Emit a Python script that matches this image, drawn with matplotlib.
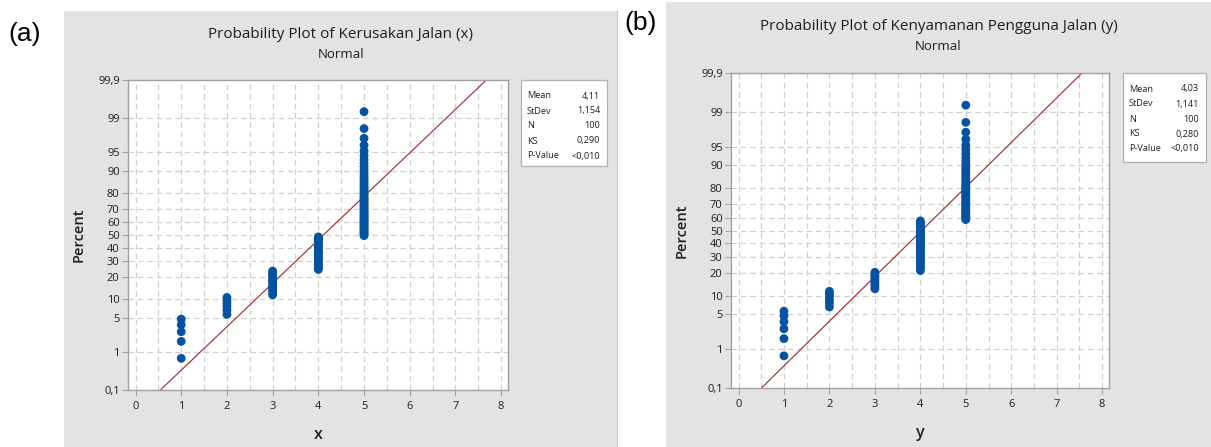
import numpy as np
import matplotlib
matplotlib.use("Agg")
import matplotlib.pyplot as plt
from matplotlib.patches import Rectangle
from matplotlib.ticker import FixedLocator, NullLocator
from statistics import NormalDist

# ---------------- data ----------------
x_values = [1, 2, 3, 4, 5]
x_counts = [5, 6, 13, 25, 51]
y_values = [1, 2, 3, 4, 5]
y_counts = [6, 6, 9, 37, 42]

x_mean, x_sd = 4.11, 1.154
y_mean, y_sd = 4.03, 1.141

stat_names = ["Mean", "StDev", "N", "KS", "P-Value"]
x_stats = ["4,11", "1,154", "100", "0,290", "<0,010"]
y_stats = ["4,03", "1,141", "100", "0,280", "<0,010"]

titles = ["Probability Plot of Kerusakan Jalan (x)",
          "Probability Plot of Kenyamanan Pengguna Jalan (y)"]
subtitle = "Normal"
xlabels = ["x", "y"]
ylabel = "Percent"
panel_tags = ["(a)", "(b)"]

pct_ticks = [0.1, 1, 5, 10, 20, 30, 40, 50, 60, 70, 80, 90, 95, 99, 99.9]
pct_labels = ["0,1", "1", "5", "10", "20", "30", "40", "50", "60", "70",
              "80", "90", "95", "99", "99,9"]
x_ticks = [0, 1, 2, 3, 4, 5, 6, 7, 8]

# ---------------- style ----------------
W, H = 1211, 447
FONT = ["Open Sans", "DejaVu Sans"]
plt.rcParams["font.family"] = FONT
GRAY_BG = "#e3e3e3"
SPINE = "#a0a0a0"
GRID = "#d0d0d0"
DOT = "#0453a3"
LINE = "#a52f2f"
TXT = "#1e1e1e"

nd = NormalDist()
_ppf = np.vectorize(lambda p: nd.inv_cdf(p), otypes=[float])
_cdf = np.vectorize(lambda z: nd.cdf(z), otypes=[float])


def fwd(p):
    p = np.clip(np.asarray(p, dtype=float) / 100.0, 1e-12, 1 - 1e-12)
    return _ppf(p)


def inv(z):
    return _cdf(np.asarray(z, dtype=float)) * 100.0


fig = plt.figure(figsize=(W / 100, H / 100), dpi=100)
fig.patch.set_facecolor("white")


def rect_px(x0, y0, x1, y1, **kw):
    r = Rectangle((x0 / W, 1 - y1 / H), (x1 - x0) / W, (y1 - y0) / H,
                  transform=fig.transFigure, **kw)
    fig.add_artist(r)
    return r


def axes_px(l, r, t, b):
    return fig.add_axes([l / W, 1 - b / H, (r - l) / W, (b - t) / H])


# panel geometry (pixels)
panels = [
    dict(bg=(64, 11, 618, 447), ax=(128, 508, 80, 390), box=(521, 80, 607, 166),
         tag=(25, 34), values=x_values, counts=x_counts, mean=x_mean, sd=x_sd,
         stats=x_stats),
    dict(bg=(666, 2, 1211, 447), ax=(731, 1109, 73, 388), box=(1123, 73, 1206, 162),
         tag=(641, 23), values=y_values, counts=y_counts, mean=y_mean, sd=y_sd,
         stats=y_stats),
]

for k, P in enumerate(panels):
    bx0, by0, bx1, by1 = P["bg"]
    rect_px(bx0, by0, bx1, by1, facecolor=GRAY_BG, edgecolor="none", zorder=0)
    if k == 0:
        rect_px(bx1 - 1, by0, bx1, by1, facecolor="#c4c4c4", edgecolor="none", zorder=0)

    l, r, t, b = P["ax"]
    ax = axes_px(l, r, t, b)
    ax.set_facecolor("white")
    ax.set_yscale("function", functions=(fwd, inv))
    ax.set_ylim(0.1, 99.9)
    ax.set_xlim(-0.165, 8.15)

    # grid
    for gx in np.arange(0, 8.01, 0.5):
        ax.axvline(gx, color=GRID, lw=0.9, ls=(0, (4.5, 3)), zorder=1)
    for gy in pct_ticks[1:-1]:
        ax.axhline(gy, color=GRID, lw=0.9, ls=(0, (4.5, 3)), zorder=1)

    # fitted line
    lo = P["mean"] + nd.inv_cdf(0.001) * P["sd"]
    hi = P["mean"] + nd.inv_cdf(0.999) * P["sd"]
    xs = np.array([lo, hi])
    ax.plot(xs, 100 * _cdf((xs - P["mean"]) / P["sd"]), color=LINE, lw=0.85,
            zorder=2, solid_capstyle="butt")

    # data points with median-rank plotting positions
    data = np.repeat(P["values"], P["counts"])
    n = len(data)
    ranks = np.arange(1, n + 1)
    pct = (ranks - 0.3) / (n + 0.4) * 100
    ax.scatter(data, pct, s=40, color=DOT, edgecolors="none", zorder=3, clip_on=False)

    ax.yaxis.set_major_locator(FixedLocator(pct_ticks))
    ax.yaxis.set_minor_locator(NullLocator())
    ax.set_yticklabels(pct_labels)
    ax.set_xticks(x_ticks)
    ax.set_xticklabels([str(v) for v in x_ticks])
    ax.xaxis.set_minor_locator(NullLocator())
    ax.tick_params(axis="both", direction="out", length=4, width=0.8, color=SPINE,
                   labelsize=8, labelcolor=TXT)
    ax.tick_params(axis="x", pad=4)
    ax.tick_params(axis="y", pad=2)
    for lab in ax.get_xticklabels() + ax.get_yticklabels():
        lab.set_fontweight("medium")
    for s in ax.spines.values():
        s.set_color(SPINE)
        s.set_linewidth(1.0)

    ax.set_xlabel(xlabels[k], fontsize=11.5, color=TXT, labelpad=11,
                  fontweight="semibold")
    ax.set_ylabel(ylabel, fontsize=10.5, color=TXT, labelpad=9,
                  fontweight="semibold")

    # titles centered on the gray panel
    cx = (bx0 + bx1) / 2 / W
    ty = t - 45 if k == 0 else t - 46
    fig.text(cx, 1 - ty / H, titles[k], ha="center", va="center", fontsize=11,
             color=TXT, fontweight="medium")
    fig.text(cx, 1 - (ty + 19) / H, subtitle, ha="center", va="center",
             fontsize=9.5, color=TXT, fontweight="medium")

    # stats box
    sx0, sy0, sx1, sy1 = P["box"]
    rect_px(sx0, sy0, sx1, sy1, facecolor="white", edgecolor="#b0b0b0",
            linewidth=0.9, zorder=2)
    for j, (nm, val) in enumerate(zip(stat_names, P["stats"])):
        yy = 1 - (sy0 + 16 + j * 15) / H
        fig.text((sx0 + 6) / W, yy, nm, ha="left", va="center", fontsize=6.6,
                 color=TXT, zorder=3)
        fig.text((sx1 - 7) / W, yy, val, ha="right", va="center", fontsize=6.6,
                 color=TXT, zorder=3)

    # panel tag
    tx, tyy = P["tag"]
    fig.text(tx / W, 1 - tyy / H, panel_tags[k], ha="center", va="center",
             fontsize=19, family=["Liberation Sans", "DejaVu Sans"], color="black")

fig.savefig("out.png", dpi=100, facecolor="white")
